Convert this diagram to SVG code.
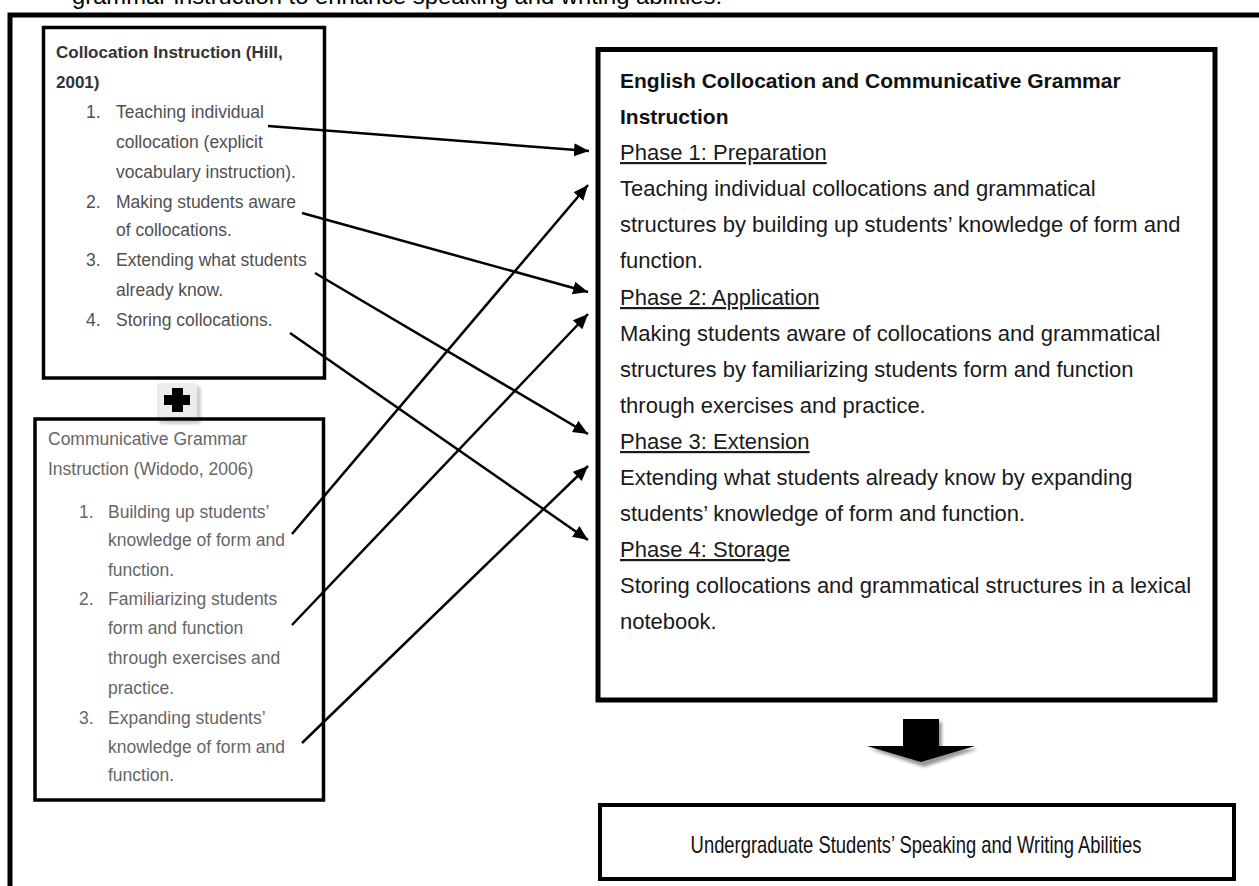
<svg xmlns="http://www.w3.org/2000/svg" width="1259" height="886" viewBox="0 0 1259 886">
<style>
  .frame { fill: none; stroke: #000; }
  .t { font-family: "Liberation Sans", Arial, sans-serif; }
  .lt1 { font-size: 17.5px; fill: #505050; }
  .lt2 { font-size: 17.5px; fill: #666; }
  .ttl1 { font-size: 17px; font-weight: bold; fill: #333; }
  .rt { font-size: 22px; fill: #1a1a1a; }
  .rtb { font-size: 21px; font-weight: bold; fill: #111; }
  .u { text-decoration: underline; }
  .conn { stroke: #000; stroke-width: 2.5; fill: none; marker-end: url(#ah); }
</style>
<defs>
  <marker id="ah" markerUnits="userSpaceOnUse" markerWidth="16" markerHeight="14" refX="15" refY="6.5" orient="auto">
    <path d="M0,0 L15,6.5 L0,13 z" fill="#000"/>
  </marker>
  <filter id="blur" x="-20%" y="-20%" width="140%" height="140%">
    <feGaussianBlur stdDeviation="1.5"/>
  </filter>
</defs>
<rect x="0" y="0" width="1259" height="886" fill="#fff"/>

<!-- cut-off caption at top -->
<text class="t" x="72" y="4" font-size="22" fill="#000" textLength="650" lengthAdjust="spacingAndGlyphs">grammar instruction to enhance speaking and writing abilities.</text>

<!-- outer frame -->
<g id="outer-frame">
  <path d="M10,886 L10,15 L1259,15" stroke="#000" stroke-width="5" fill="none"/>
</g>

<!-- Left box 1 -->
<g id="collocation-instruction">
  <rect class="frame" x="43.5" y="27.5" width="281" height="350.5" stroke-width="3.5"/>
  <text class="t ttl1" x="56" y="58">Collocation Instruction (Hill,</text>
  <text class="t ttl1" x="56" y="88">2001)</text>
  <text class="t lt1" x="86" y="118">1.</text>
  <text class="t lt1" x="116" y="118">Teaching individual</text>
  <text class="t lt1" x="116" y="148">collocation (explicit</text>
  <text class="t lt1" x="116" y="178">vocabulary instruction).</text>
  <text class="t lt1" x="86" y="208">2.</text>
  <text class="t lt1" x="116" y="208">Making students aware</text>
  <text class="t lt1" x="116" y="236">of collocations.</text>
  <text class="t lt1" x="86" y="266">3.</text>
  <text class="t lt1" x="116" y="266">Extending what students</text>
  <text class="t lt1" x="116" y="296">already know.</text>
  <text class="t lt1" x="86" y="326">4.</text>
  <text class="t lt1" x="116" y="326">Storing collocations.</text>
</g>

<!-- plus icon -->
<g id="plus-icon">
  <rect x="159" y="386" width="42" height="38" rx="3" fill="#cfcfcf" filter="url(#blur)"/>
  <rect x="157" y="383" width="40" height="37" rx="3" fill="#ececec"/>
  <rect x="172" y="388" width="11" height="24" fill="#000"/>
  <rect x="164" y="395" width="26" height="10" fill="#000"/>
</g>

<!-- Left box 2 -->
<g id="communicative-grammar">
  <rect class="frame" x="35" y="419" width="288.5" height="381" stroke-width="3.5"/>
  <text class="t lt2" x="48" y="445">Communicative Grammar</text>
  <text class="t lt2" x="48" y="475">Instruction (Widodo, 2006)</text>
  <text class="t lt2" x="79" y="518">1.</text>
  <text class="t lt2" x="108" y="518">Building up students’</text>
  <text class="t lt2" x="108" y="546">knowledge of form and</text>
  <text class="t lt2" x="108" y="576">function.</text>
  <text class="t lt2" x="79" y="605">2.</text>
  <text class="t lt2" x="108" y="605">Familiarizing students</text>
  <text class="t lt2" x="108" y="634">form and function</text>
  <text class="t lt2" x="108" y="664">through exercises and</text>
  <text class="t lt2" x="108" y="694">practice.</text>
  <text class="t lt2" x="79" y="724">3.</text>
  <text class="t lt2" x="108" y="724">Expanding students’</text>
  <text class="t lt2" x="108" y="753">knowledge of form and</text>
  <text class="t lt2" x="108" y="781">function.</text>
</g>

<!-- Right box -->
<g id="english-collocation-communicative-grammar">
  <rect class="frame" x="598" y="49.5" width="617" height="650.5" stroke-width="5"/>
  <text class="t rtb" x="620" y="88">English Collocation and Communicative Grammar</text>
  <text class="t rtb" x="620" y="124">Instruction</text>
  <text class="t rt u" x="620" y="160">Phase 1: Preparation</text>
  <text class="t rt" x="620" y="196">Teaching individual collocations and grammatical</text>
  <text class="t rt" x="620" y="232">structures by building up students’ knowledge of form and</text>
  <text class="t rt" x="620" y="268">function.</text>
  <text class="t rt u" x="620" y="305">Phase 2: Application</text>
  <text class="t rt" x="620" y="341">Making students aware of collocations and grammatical</text>
  <text class="t rt" x="620" y="377">structures by familiarizing students form and function</text>
  <text class="t rt" x="620" y="413">through exercises and practice.</text>
  <text class="t rt u" x="620" y="449">Phase 3: Extension</text>
  <text class="t rt" x="620" y="485">Extending what students already know by expanding</text>
  <text class="t rt" x="620" y="521">students’ knowledge of form and function.</text>
  <text class="t rt u" x="620" y="557">Phase 4: Storage</text>
  <text class="t rt" x="620" y="593">Storing collocations and grammatical structures in a lexical</text>
  <text class="t rt" x="620" y="629">notebook.</text>
</g>

<!-- Bottom box -->
<g id="speaking-writing-abilities">
  <rect class="frame" x="600" y="805" width="634" height="74" stroke-width="4"/>
  <text class="t" x="0" y="0" font-size="23" fill="#111" text-anchor="middle" transform="translate(916,853) scale(0.8,1)">Undergraduate Students’ Speaking and Writing Abilities</text>
</g>

<!-- Connectors -->
<g id="connectors">
  <line class="conn" x1="268" y1="126" x2="589" y2="151"/>
  <line class="conn" x1="302" y1="213" x2="588" y2="292"/>
  <line class="conn" x1="315" y1="273" x2="588" y2="434"/>
  <line class="conn" x1="290" y1="333" x2="588" y2="540"/>
  <line class="conn" x1="292" y1="534" x2="588" y2="185"/>
  <line class="conn" x1="292" y1="625" x2="588" y2="314"/>
  <line class="conn" x1="302" y1="743" x2="588" y2="466"/>
  <!-- block down arrow -->
  <g id="down-arrow">
    <path d="M906,722 L942,722 L942,749 L978,749 L924,767 L870,749 L906,749 z" fill="#9a9a9a" filter="url(#blur)"/>
    <path d="M903,719 L939,719 L939,746 L975,746 L921,762 L867,746 L903,746 z" fill="#000"/>
  </g>
</g>
</svg>
